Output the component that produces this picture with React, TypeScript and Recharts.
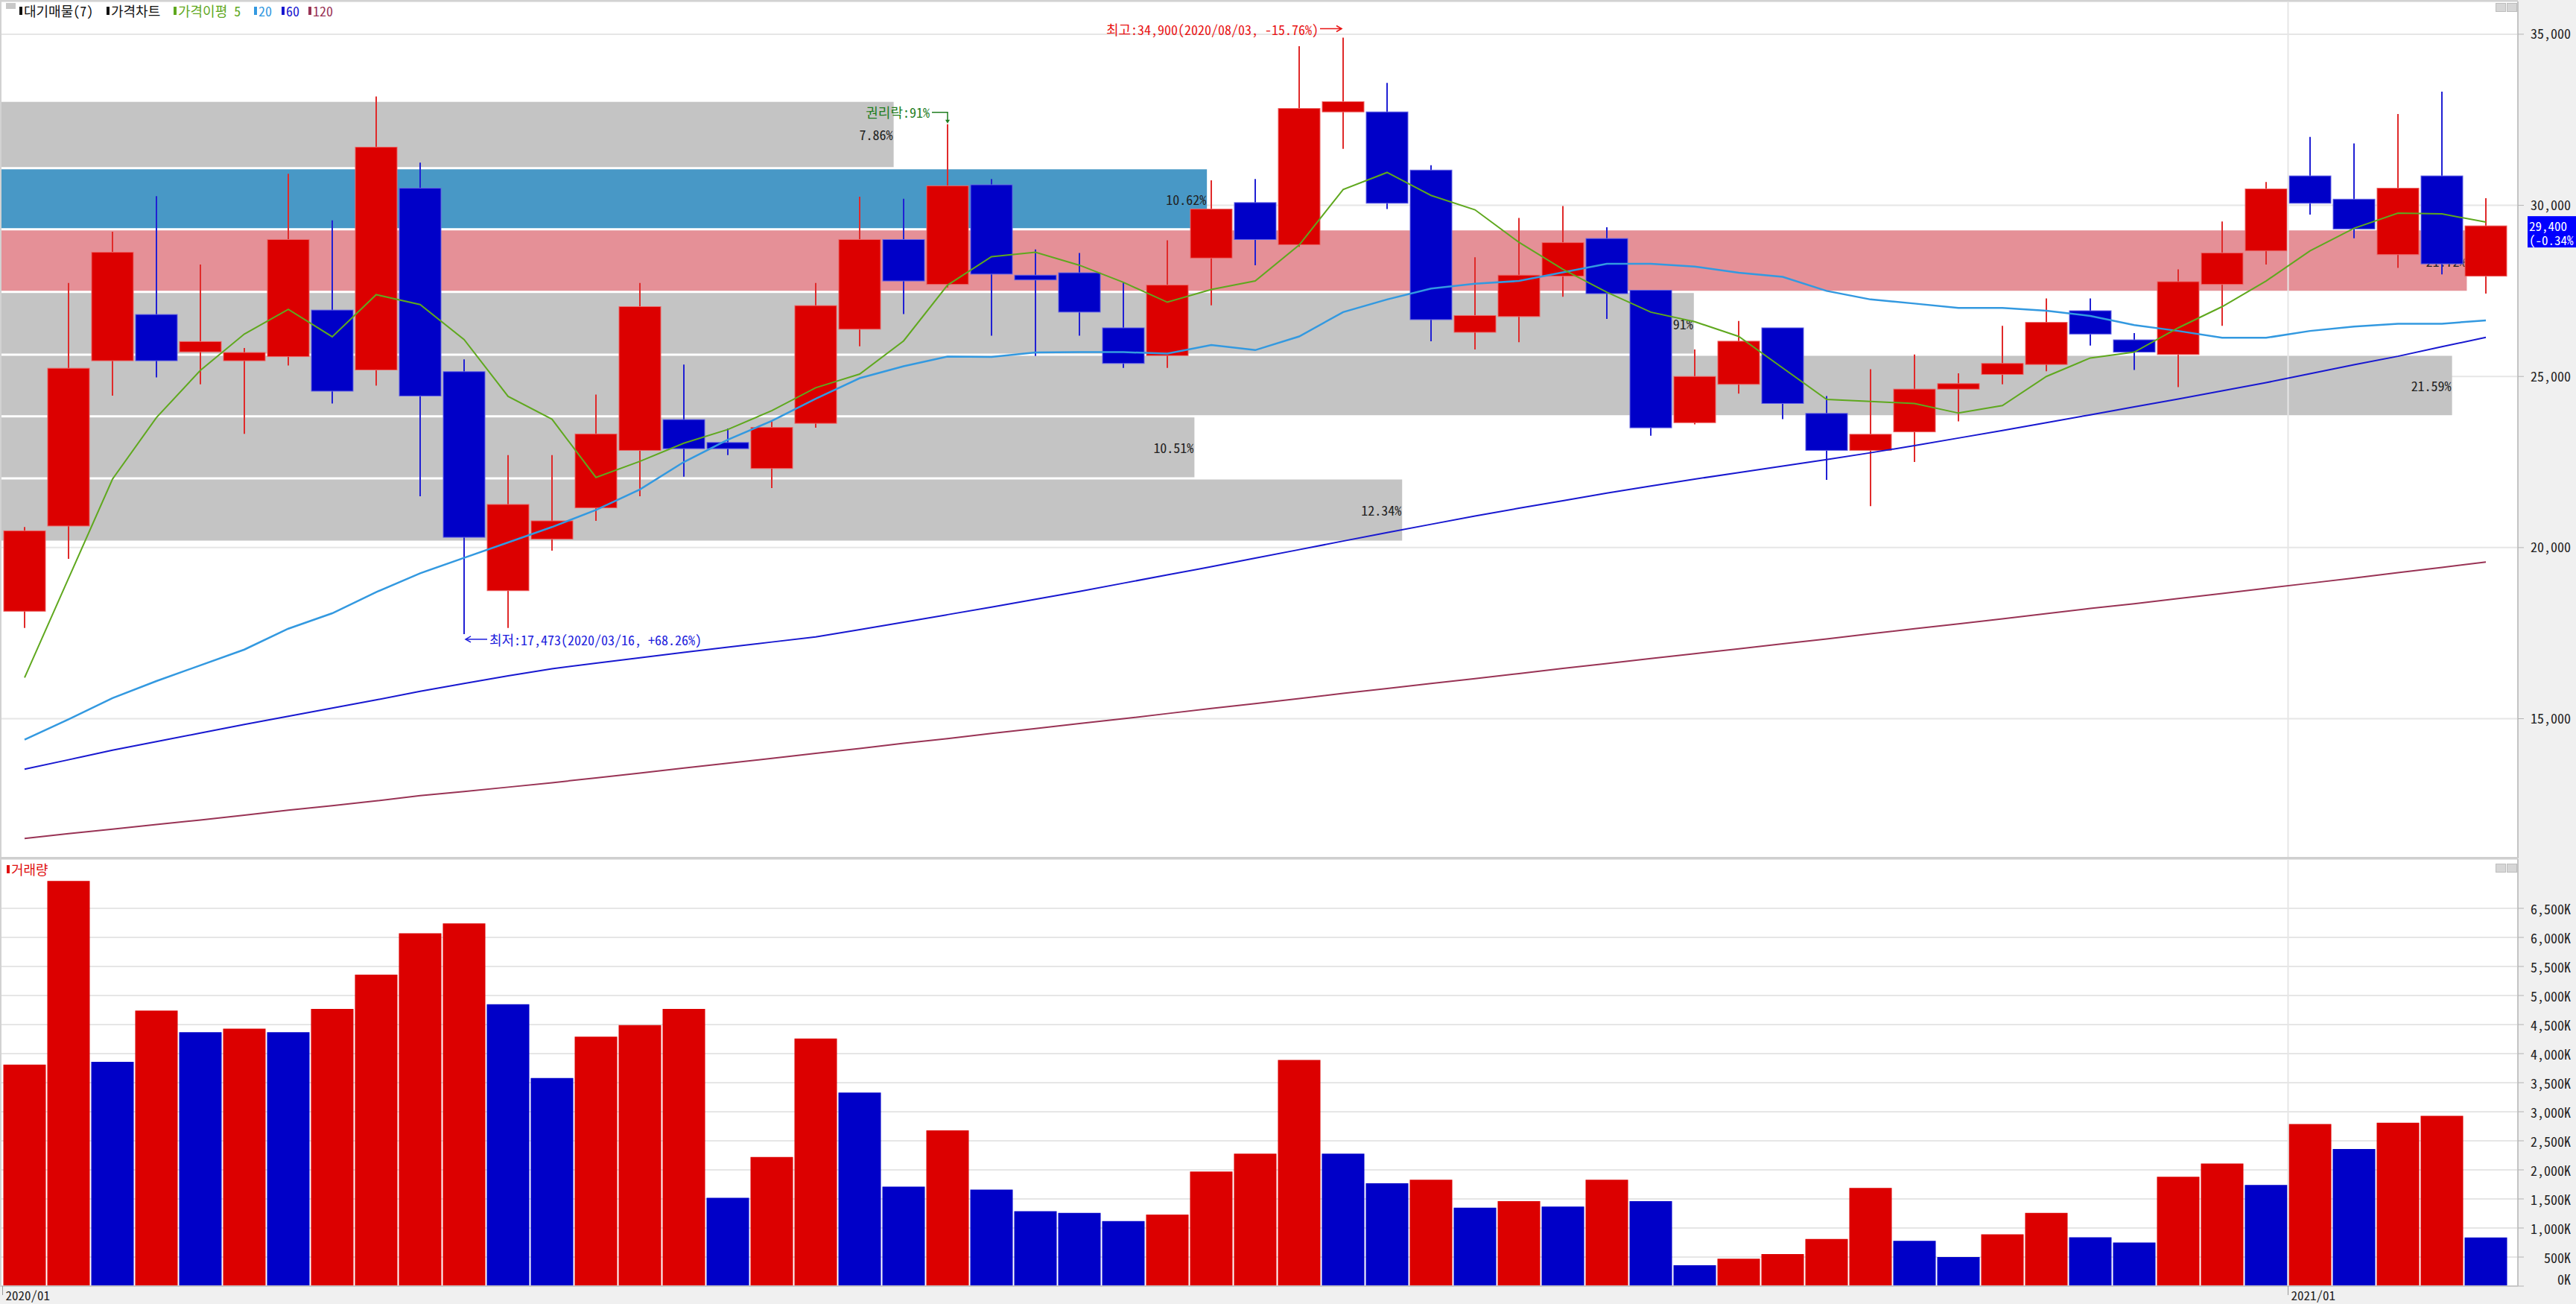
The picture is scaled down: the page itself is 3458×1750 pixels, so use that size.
import React from "react"
import {
  ComposedChart,
  Bar,
  Line,
  XAxis,
  YAxis,
  CartesianGrid,
  ReferenceArea,
  ReferenceLine,
  ReferenceDot,
  Cell,
} from "recharts"

// ---------- data (weekly) ----------
const weeks = [
  "2020/01/06", "2020/01/13", "2020/01/20", "2020/01/27", "2020/02/03", "2020/02/10", "2020/02/17", "2020/02/24",
  "2020/03/02", "2020/03/09", "2020/03/16", "2020/03/23", "2020/03/30", "2020/04/06", "2020/04/13", "2020/04/20",
  "2020/04/27", "2020/05/04", "2020/05/11", "2020/05/18", "2020/05/25", "2020/06/01", "2020/06/08", "2020/06/15",
  "2020/06/22", "2020/06/29", "2020/07/06", "2020/07/13", "2020/07/20", "2020/07/27", "2020/08/03", "2020/08/10",
  "2020/08/17", "2020/08/24", "2020/08/31", "2020/09/07", "2020/09/14", "2020/09/21", "2020/09/28", "2020/10/05",
  "2020/10/12", "2020/10/19", "2020/10/26", "2020/11/02", "2020/11/09", "2020/11/16", "2020/11/23", "2020/11/30",
  "2020/12/07", "2020/12/14", "2020/12/21", "2020/12/28", "2021/01/04", "2021/01/11", "2021/01/18", "2021/01/25",
  "2021/02/01",
]

const opens = [
  18140, 20630, 25460, 26810, 25720, 25460, 25580, 26940, 25190, 30500, 25140, 18740, 20250, 21160, 22840, 23740,
  23070, 22310, 23630, 26380, 29000, 27690, 30600, 27960, 28030, 26420, 25610, 28460, 30080, 28850, 32730, 32730,
  31030, 26290, 26750, 27930, 29030, 27520, 23650, 24770, 26420, 23920, 22840, 23380, 24630, 25060, 25350, 26920,
  26070, 25640, 27690, 28670, 30860, 30180, 28560, 30860, 27930,
]
const highs = [
  20600, 27730, 29230, 30270, 28270, 25830, 30920, 29560, 33180, 31250, 25500, 22700, 22700, 24470, 27730, 25350,
  23480, 23680, 27730, 30250, 30190, 32370, 30770, 28710, 28610, 27750, 28980, 30730, 30770, 34650, 34900, 33580,
  31170, 28480, 29630, 29980, 29360, 27520, 25790, 26620, 26420, 24430, 25210, 25640, 25090, 26480, 27280, 27280,
  26270, 28130, 29530, 30680, 32000, 31810, 32670, 33320, 30210,
]
const lows = [
  17650, 19670, 24440, 24970, 24770, 23320, 25320, 24210, 24730, 21500, 17473, 17650, 19910, 20780, 21500, 22070,
  22700, 21740, 23500, 25880, 26820, 27600, 26190, 25600, 26190, 25250, 25250, 27080, 28250, 28790, 31650, 29890,
  26030, 25790, 26000, 27330, 26680, 23270, 23600, 24500, 23750, 21980, 21210, 22500, 23690, 24770, 25150, 25900,
  25190, 24690, 26480, 28270, 29730, 29040, 28170, 27980, 27420,
]
const closes = [
  20490, 25240, 28630, 25460, 26020, 25700, 29000, 24570, 31700, 24430, 20300, 21260, 20780, 23320, 27040, 22890,
  22890, 23510, 27070, 29000, 27790, 30570, 27990, 27820, 26880, 25380, 27670, 29890, 29000, 32830, 33030, 30060,
  26660, 26780, 27960, 28910, 27420, 23500, 25000, 26030, 24210, 22840, 23310, 24630, 24790, 25380, 26580, 26240,
  25710, 27770, 28610, 30480, 30060, 29310, 30500, 28290, 29400,
]

const ma5 = [
  16200, 19100, 22000, 23800, 25180, 26240, 26960, 26160, 27390, 27100, 26080, 24420, 23750, 22050, 22520, 23050,
  23450, 24000, 24670, 25070, 26040, 27670, 28500, 28630, 28250, 27750, 27170, 27540, 27790, 28840, 30460, 30960,
  30290, 29870, 28920, 28130, 27460, 26880, 26600, 26170, 25250, 24330, 24270, 24210, 23930, 24150, 25000, 25540,
  25710, 26420, 27040, 27790, 28670, 29330, 29770, 29750, 29510,
]
const ma20 = [
  14390, 14980, 15600, 16100, 16560, 17020, 17630, 18080, 18700, 19250, 19700, 20150, 20600, 21100, 21700, 22500,
  23150, 23700, 24350, 24950, 25300, 25580, 25570, 25700, 25710, 25710, 25670, 25920, 25770, 26170, 26880, 27250,
  27570, 27710, 27790, 28040, 28290, 28290, 28210, 28030, 27910, 27500, 27250, 27130, 27000, 27000, 26920, 26770,
  26500, 26330, 26130, 26130, 26330, 26460, 26540, 26540, 26640,
]
const ma60 = [
  13525, 13800, 14080, 14330, 14580, 14830, 15070, 15310, 15550, 15800, 16030, 16250, 16460, 16620, 16780, 16940,
  17090, 17240, 17390, 17600, 17820, 18040, 18260, 18490, 18720, 18960, 19200, 19440, 19690, 19940, 20190, 20440,
  20680, 20920, 21150, 21370, 21590, 21800, 22000, 22190, 22380, 22570, 22770, 22980, 23200, 23420, 23650, 23880,
  24110, 24340, 24580, 24820, 25080, 25340, 25590, 25870, 26140,
]
const ma120 = [
  11500, 11640, 11770, 11910, 12040, 12180, 12330, 12460, 12600, 12750, 12870, 13000, 13130, 13270, 13410, 13560,
  13700, 13840, 13990, 14130, 14280, 14420, 14570, 14710, 14860, 15000, 15150, 15300, 15440, 15590, 15740, 15880,
  16030, 16170, 16320, 16470, 16610, 16760, 16900, 17040, 17190, 17330, 17480, 17630, 17770, 17920, 18070, 18220,
  18360, 18510, 18660, 18810, 18960, 19110, 19270, 19420, 19580,
]

// 거래량, thousands of shares
const volumes = [
  3810, 6970, 3860, 4740, 4370, 4430, 4370, 4770, 5360, 6070, 6240, 4850, 3580, 4290, 4490, 4770,
  1520, 2220, 4260, 3330, 1710, 2680, 1660, 1290, 1260, 1120, 1230, 1970, 2280, 3890, 2280, 1770,
  1830, 1350, 1460, 1370, 1830, 1460, 360, 470, 550, 810, 1690, 780, 500, 890, 1260, 840,
  750, 1880, 2110, 1740, 2790, 2360, 2810, 2930, 835,
]

// 대기매물: price band edges (low -> high) and share of volume per band (%)
const profileEdges = [20171, 22022, 23835, 25636, 27471, 29300, 31085, 33056]
const profileShares = [12.34, 10.51, 21.59, 14.91, 21.72, 10.62, 7.86]

const priceTicks = [15000, 20000, 25000, 30000, 35000]
const volumeTicks = [0, 500, 1000, 1500, 2000, 2500, 3000, 3500, 4000, 4500, 5000, 5500, 6000, 6500]

const exRightsWeek = "2020/06/01"
const exRightsText = "권리락:91%"
const lastChangePct = -0.34

// ---------- layout / style ----------
const W = 3458
const H = 1750
const AXIS_W = 78
const PLOT_L = 2
const PLOT_R = W - AXIS_W
const PLOT_W = PLOT_R - PLOT_L
const PRICE_H = 1153
const VOL_TOP = 1153
const VOL_H = H - VOL_TOP
const BAND = 59
const PAD_L = 1.5
const PAD_R = 13.5
const PRICE_DOMAIN: [number, number] = [10918, 35956]
const VOL_DOMAIN: [number, number] = [0, 7346]
const PROFILE_FULL = 22.17 // share that would fill the whole plot width

const FONT = '"Noto Sans Mono CJK KR", "Liberation Sans Narrow", "Noto Sans CJK KR", sans-serif'
const RED = "#dc0000"
const BLUE = "#0000c8"
const GRID = "#e6e6e6"
const TXT = "#222"
const profileFill = ["#c4c4c4", "#c4c4c4", "#c4c4c4", "#c4c4c4", "#e59097", "#4898c6", "#c4c4c4"]

const n = weeks.length

const rows = weeks.map((w, i) => ({
  week: w,
  open: opens[i],
  high: highs[i],
  low: lows[i],
  close: closes[i],
  ma5: ma5[i],
  ma20: ma20[i],
  ma60: ma60[i],
  ma120: ma120[i],
  vol: volumes[i],
}))

// first week of each January starts a new year label
const monthTicks = weeks
  .filter((w, i) => w.slice(5, 7) === "01" && (i === 0 || weeks[i - 1].slice(5, 7) !== "01"))
  .map((w) => ({ week: w, label: w.slice(0, 7) }))

const fmt = (v: number) => v.toLocaleString("en-US")
const lastClose = closes[n - 1]
const hiIdx = highs.indexOf(Math.max(...highs))
const loIdx = lows.indexOf(Math.min(...lows))
const pctFrom = (ref: number) => {
  const p = ((lastClose - ref) / ref) * 100
  return `${p >= 0 ? "+" : ""}${p.toFixed(2)}%`
}

// ---------- shapes ----------
function Candle(props: any) {
  const { x, y, width, height, payload } = props
  if (!payload || width == null) return null
  const top = Math.min(y, y + height)
  const span = Math.abs(height)
  const per = payload.high > payload.low ? span / (payload.high - payload.low) : 0
  const at = (v: number) => top + (payload.high - v) * per
  const up = payload.close >= payload.open
  const b0 = at(Math.max(payload.open, payload.close))
  const b1 = at(Math.min(payload.open, payload.close))
  const cx = Math.round(x + width / 2)
  return (
    <g>
      <line x1={cx} x2={cx} y1={top} y2={top + span} stroke={up ? "#e02a2a" : "#2020d4"} strokeWidth={2} />
      <rect
        x={x + 0.5}
        y={b0}
        width={width - 1}
        height={Math.max(b1 - b0, 2)}
        fill={up ? RED : BLUE}
        stroke={up ? "#ec6464" : "#6464e4"}
        strokeWidth={1}
      />
    </g>
  )
}

function ProfileBand(props: any) {
  const { y, height, share, color } = props
  if (y == null) return null
  const w = (share / PROFILE_FULL) * PLOT_W
  return (
    <g>
      <rect x={PLOT_L} y={y + 1.5} width={w} height={Math.max(height - 3, 0)} fill={color} />
      <text
        x={PLOT_L + w - 1}
        y={y + height / 2}
        textAnchor="end"
        dominantBaseline="central"
        fontSize={18}
        fontFamily={FONT}
        fill={TXT}
      >
        {`${share.toFixed(2)}%`}
      </text>
    </g>
  )
}

function HighNote({ cx, cy }: any) {
  const c = "#e81414"
  const ty = cy - 12
  return (
    <g>
      <text x={cx - 33} y={ty} textAnchor="end" dominantBaseline="central" fontSize={18} fontFamily={FONT} fill={c}>
        {`최고:${fmt(highs[hiIdx])}(${weeks[hiIdx]}, ${pctFrom(highs[hiIdx])})`}
      </text>
      <line x1={cx - 31} x2={cx - 2} y1={ty} y2={ty} stroke={c} strokeWidth={1.5} />
      <polyline points={`${cx - 9},${ty - 4} ${cx - 2},${ty} ${cx - 9},${ty + 4}`} fill="none" stroke={c} strokeWidth={1.5} />
    </g>
  )
}

function LowNote({ cx, cy }: any) {
  const c = "#1c1cdc"
  const ty = cy + 7
  return (
    <g>
      <line x1={cx + 2} x2={cx + 31} y1={ty} y2={ty} stroke={c} strokeWidth={1.5} />
      <polyline points={`${cx + 9},${ty - 4} ${cx + 2},${ty} ${cx + 9},${ty + 4}`} fill="none" stroke={c} strokeWidth={1.5} />
      <text x={cx + 34} y={ty} dominantBaseline="central" fontSize={18} fontFamily={FONT} fill={c}>
        {`최저:${fmt(lows[loIdx])}(${weeks[loIdx]}, ${pctFrom(lows[loIdx])})`}
      </text>
    </g>
  )
}

function ExRightsNote({ cx, cy }: any) {
  const c = "#1e7d1e"
  const ty = cy - 17
  return (
    <g>
      <text x={cx - 24} y={ty} textAnchor="end" dominantBaseline="central" fontSize={18} fontFamily={FONT} fill={c}>
        {exRightsText}
      </text>
      <polyline points={`${cx - 21},${ty + 1} ${cx},${ty + 1} ${cx},${cy - 4}`} fill="none" stroke={c} strokeWidth={1.5} />
      <polygon points={`${cx - 3},${cy - 6} ${cx + 3},${cy - 6} ${cx},${cy - 1}`} fill={c} />
    </g>
  )
}

function PriceTag(props: any) {
  const vb = props.viewBox
  if (!vb) return null
  const x0 = vb.x + vb.width + 13
  const y0 = vb.y
  return (
    <g>
      <rect x={x0} y={y0 - 13} width={68} height={42} fill="#0000ff" />
      <text x={x0 + 2} y={y0 - 1} dominantBaseline="central" fontSize={17} fontFamily={FONT} fill="#fff">
        {fmt(lastClose)}
      </text>
      <text x={x0 + 2} y={y0 + 18} dominantBaseline="central" fontSize={17} fontFamily={FONT} fill="#fff">
        {`(${lastChangePct.toFixed(2)}%`}
      </text>
    </g>
  )
}

function VolTick(props: any) {
  const { x, y, payload } = props
  const v = payload.value
  return (
    <text x={x + 63} y={v === 0 ? y - 10 : y} textAnchor="end" dominantBaseline="central" fontSize={18} fontFamily={FONT} fill={TXT}>
      {`${fmt(v)}K`}
    </text>
  )
}

function DateTick(props: any) {
  const { x, y, payload } = props
  const t = monthTicks.find((m) => m.week === payload.value)
  if (!t) return null
  const bx = x - BAND / 2
  return (
    <g>
      <line x1={bx} x2={bx} y1={y} y2={y + 12} stroke="#9a9a9a" strokeWidth={1} />
      <text x={bx + 4} y={y + 11} dominantBaseline="central" fontSize={17} fontFamily={FONT} fill={TXT}>
        {t.label}
      </text>
    </g>
  )
}

// ---------- panels ----------
function PriceChart() {
  return (
    <ComposedChart width={W} height={PRICE_H} data={rows} margin={{ top: 2, right: 0, bottom: 1, left: PLOT_L }}>
      <CartesianGrid horizontal vertical={false} stroke={GRID} strokeWidth={2} />
      <XAxis dataKey="week" hide padding={{ left: PAD_L, right: PAD_R }} />
      <YAxis
        orientation="right"
        width={AXIS_W}
        domain={PRICE_DOMAIN}
        allowDataOverflow
        ticks={priceTicks}
        interval={0}
        tickSize={8}
        tickMargin={9}
        tickLine={{ stroke: "#b4b4b4" }}
        axisLine={{ stroke: "#c4c4c4", strokeWidth: 2 }}
        tick={{ fontSize: 18, fill: TXT, fontFamily: FONT }}
        tickFormatter={fmt}
      />
      {monthTicks.slice(1).map((m) => (
        <ReferenceLine key={m.week} x={m.week} position="start" stroke={GRID} strokeWidth={2} />
      ))}
      {profileShares.map((s, k) => (
        <ReferenceArea
          key={k}
          y1={profileEdges[k]}
          y2={profileEdges[k + 1]}
          shape={(p: any) => <ProfileBand {...p} share={s} color={profileFill[k]} />}
        />
      ))}
      <Bar
        dataKey={(d: any) => [d.low, d.high]}
        barSize={57}
        isAnimationActive={false}
        shape={(p: any) => <Candle {...p} />}
      />
      <Line dataKey="ma120" stroke="#993355" strokeWidth={2} dot={false} isAnimationActive={false} />
      <Line dataKey="ma60" stroke="#1818d0" strokeWidth={2} dot={false} isAnimationActive={false} />
      <Line dataKey="ma20" stroke="#3399e0" strokeWidth={2.5} dot={false} isAnimationActive={false} />
      <Line dataKey="ma5" stroke="#5fa81e" strokeWidth={2} dot={false} isAnimationActive={false} />
      <ReferenceDot x={weeks[hiIdx]} y={highs[hiIdx]} r={1} ifOverflow="visible" shape={(p: any) => <HighNote {...p} />} />
      <ReferenceDot x={weeks[loIdx]} y={lows[loIdx]} r={1} ifOverflow="visible" shape={(p: any) => <LowNote {...p} />} />
      <ReferenceDot
        x={exRightsWeek}
        y={highs[weeks.indexOf(exRightsWeek)]}
        r={1}
        ifOverflow="visible"
        shape={(p: any) => <ExRightsNote {...p} />}
      />
      <ReferenceLine y={lastClose} stroke="none" ifOverflow="visible" label={(p: any) => <PriceTag {...p} />} />
    </ComposedChart>
  )
}

function VolumeChart() {
  return (
    <ComposedChart width={W} height={VOL_H} data={rows} margin={{ top: 0, right: 0, bottom: 0, left: PLOT_L }}>
      <CartesianGrid horizontal vertical={false} stroke={GRID} strokeWidth={2} />
      <XAxis
        dataKey="week"
        padding={{ left: PAD_L, right: PAD_R }}
        ticks={monthTicks.map((m) => m.week)}
        interval={0}
        height={24}
        tickSize={0}
        tickMargin={0}
        tickLine={false}
        axisLine={{ stroke: "#c8c8c8", strokeWidth: 2 }}
        tick={(p: any) => <DateTick {...p} />}
      />
      <YAxis
        orientation="right"
        width={AXIS_W}
        domain={VOL_DOMAIN}
        allowDataOverflow
        ticks={volumeTicks}
        interval={0}
        tickSize={8}
        tickMargin={0}
        tickLine={{ stroke: "#b4b4b4" }}
        axisLine={{ stroke: "#c4c4c4", strokeWidth: 2 }}
        tick={(p: any) => <VolTick {...p} />}
      />
      {monthTicks.slice(1).map((m) => (
        <ReferenceLine key={m.week} x={m.week} position="start" stroke={GRID} strokeWidth={2} />
      ))}
      <Bar dataKey="vol" barSize={57} isAnimationActive={false}>
        {rows.map((r, i) => (
          <Cell key={r.week} fill={i === 0 || volumes[i] >= volumes[i - 1] ? RED : BLUE} />
        ))}
      </Bar>
    </ComposedChart>
  )
}

const legendItems = [
  { text: "대기매물(7)", color: "#111", left: 26 },
  { text: "가격차트", color: "#111", left: 143 },
  { text: "가격이평 5", color: "#5fa81e", left: 233 },
  { text: "20", color: "#3399e0", left: 341 },
  { text: "60", color: "#1818d0", left: 378 },
  { text: "120", color: "#993355", left: 414 },
]

function LegendItem({ text, color, left, top }: any) {
  return (
    <div style={{ position: "absolute", left, top, display: "flex", alignItems: "center", height: 20 }}>
      <span style={{ display: "inline-block", width: 4, height: 11, background: color, marginRight: 2 }} />
      <span style={{ color, fontSize: 18, lineHeight: "20px", fontFamily: FONT, whiteSpace: "nowrap" }}>{text}</span>
    </div>
  )
}

function WinButtons({ top }: { top: number }) {
  const box = { position: "absolute" as const, top, width: 12, height: 10, background: "#d6d6d6", border: "1px solid #bdbdbd" }
  return (
    <>
      <div style={{ ...box, left: 3350 }} />
      <div style={{ ...box, left: 3365 }} />
    </>
  )
}

export default function App() {
  return (
    <div style={{ position: "relative", width: W, height: H, background: "#fff", overflow: "hidden", fontFamily: FONT }}>
      <style>{`body{margin:0}`}</style>
      <div style={{ position: "absolute", left: PLOT_R, top: 0, width: AXIS_W, height: H, background: "#f0f0f0" }} />
      <div style={{ position: "absolute", left: 0, top: 1727, width: W, height: H - 1727, background: "#f0f0f0" }} />
      <div style={{ position: "absolute", left: 0, top: 0 }}>
        <PriceChart />
      </div>
      <div style={{ position: "absolute", left: 0, top: VOL_TOP }}>
        <VolumeChart />
      </div>
      <div style={{ position: "absolute", left: 0, top: 0, width: PLOT_R, height: 2, background: "#d2d2d2" }} />
      <div style={{ position: "absolute", left: 0, top: 0, width: 2, height: 1727, background: "#d2d2d2" }} />
      <div style={{ position: "absolute", left: 0, top: 1150, width: PLOT_R, height: 3, background: "#cfcfcf" }} />
      <div style={{ position: "absolute", left: 8, top: 4, width: 13, height: 8, background: "#c8c8c8" }} />
      {legendItems.map((it) => (
        <LegendItem key={it.text} {...it} top={4} />
      ))}
      <LegendItem text="거래량" color="#e01010" left={9} top={1156} />
      <WinButtons top={4} />
      <WinButtons top={1159} />
    </div>
  )
}
